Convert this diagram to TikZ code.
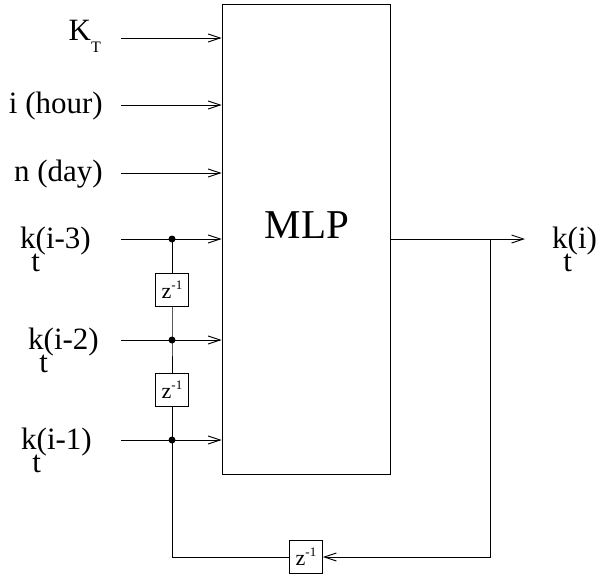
\documentclass[tikz,border=0pt]{standalone}
\usepackage{fontspec}
\setmainfont{Liberation Serif}
\newfontfamily\timesfont{Liberation Serif}
\usetikzlibrary{arrows.meta}

\tikzset{
  sig/.style={line width=0.9pt, -{Straight Barb[length=12pt,width=8pt]}},
  wire/.style={line width=0.9pt},
  delay/.style={draw, line width=0.9pt, minimum size=33pt, inner sep=0pt, font=\timesfont\fontsize{22}{22}\selectfont},
  lbl/.style={font=\timesfont\fontsize{31}{36}\selectfont, inner sep=0pt},
}
\newcommand{\kt}[1]{k\makebox[0pt]{\raisebox{-23pt}{t}}(#1)}
\newcommand{\zinv}{z\raisebox{9pt}{\fontsize{13}{13}\selectfont -1}}

\begin{document}
\begin{tikzpicture}[x=1pt, y=-1pt]
\useasboundingbox (0,0) rectangle (599,579);

% MLP block
\node[draw, line width=0.9pt, minimum width=168pt, minimum height=470pt, inner sep=0pt] (mlp) at (306,239) {};
\node[font=\timesfont\fontsize{41}{41}\selectfont, anchor=base, inner sep=0pt] (mlplabel) at (307,238) {MLP};

% Input labels
\node[lbl, anchor=base east] (lKT) at (101,40) {K\raisebox{-12pt}{\fontsize{16}{16}\selectfont T}};
\node[lbl, anchor=base east] (lhour) at (103,113) {i (hour)};
\node[lbl, anchor=base east] (lday) at (103,181) {n (day)};
\node[lbl, anchor=base west] (lk3) at (20,248) {\kt{i-3}};
\node[lbl, anchor=base west] (lk2) at (28,349) {\kt{i-2}};
\node[lbl, anchor=base west] (lk1) at (21,449) {\kt{i-1}};
\node[lbl, anchor=base west] (lk) at (552,248) {\kt{i}};

% Input lines
\coordinate (sKT) at (121,38);
\coordinate (shour) at (121,105);
\coordinate (sday) at (121,173);
\coordinate (sk3) at (121,239);
\coordinate (sk2) at (121,340);
\coordinate (sk1) at (121,440);
\foreach \s in {sKT,shour,sday,sk3,sk2,sk1}
  \draw[sig] (\s) -- (\s -| mlp.west);

% Delay line
\coordinate (j3) at (172,239);
\coordinate (j2) at (172,340);
\coordinate (j1) at (172,440);
\fill (j3) circle (3.5pt);
\fill (j2) circle (3.5pt);
\fill (j1) circle (3.5pt);

\node[delay] (d1) at (172,289.5) {\zinv};
\node[delay] (d2) at (172,390) {\zinv};
\node[delay] (d3) at (306,557) {\zinv};

\draw[wire] (j3) -- (d1) -- (j2) -- (d2) -- (j1);

% Output and feedback
\coordinate (kout) at (525,239);
\coordinate (tap) at (490,239);
\draw[sig] (mlp.east) -- (kout);
\draw[sig] (tap) |- (d3);
\draw[wire] (j1) |- (d3);

\end{tikzpicture}
\end{document}
